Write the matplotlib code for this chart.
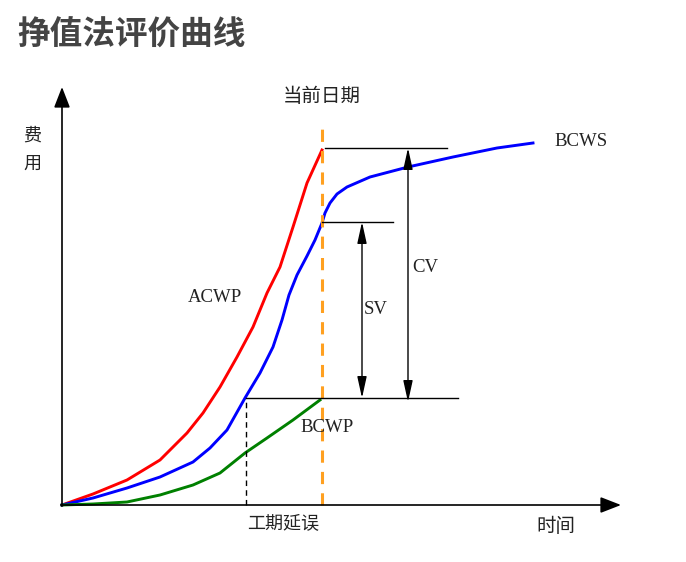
import matplotlib.pyplot as plt
import numpy as np

plt.rcParams['font.family'] = ['Noto Sans CJK SC', 'DejaVu Sans']

# Données (temps, coût), origine au coin des axes
acwp_t = [0, 31, 65, 98, 125, 141, 158, 175, 191, 205, 218, 231, 245, 260]
acwp_c = [0, 11, 25, 45, 72, 92, 118, 148, 178, 212, 238, 278, 322, 355]

bcws_t = [0, 31, 65, 98, 131, 148, 165, 183, 198, 211, 220, 227, 235,
          245, 253, 260, 263, 268, 275, 285, 308, 346, 391, 435, 471]
bcws_c = [0, 7, 17, 28, 43, 57, 75, 107, 132, 158, 185, 210, 230,
          249, 265, 282, 292, 302, 311, 318, 328, 338, 348, 357, 362]

bcwp_t = [0, 31, 65, 98, 131, 158, 183, 205, 231, 258]
bcwp_c = [0, 1, 3, 10, 20, 32, 52, 67, 85, 105]

t_now = 260        # date courante
t_delay = 184      # date où BCWS atteint BCWP
c_acwp_now = 357
c_bcws_now = 283
c_bcwp_now = 107

fig = plt.figure(figsize=(6.86, 5.62), dpi=100)
ax = fig.add_axes([0, 0, 1, 1])
ax.set_xlim(-62, 624)
ax.set_ylim(-57, 505)
ax.axis('off')

# Titre
ax.text(-45, 470, "挣值法评价曲线", fontsize=23.5, fontweight='bold',
        color="#444444", ha='left', va='center')

# Axes avec flèches
ax.annotate("", xy=(0, 418), xytext=(0, -1),
            arrowprops=dict(arrowstyle="-|>,head_length=0.9,head_width=0.35",
                            color="black", lw=1.2, mutation_scale=14,
                            shrinkA=0, shrinkB=0))
ax.annotate("", xy=(559, 0), xytext=(-1, 0),
            arrowprops=dict(arrowstyle="-|>,head_length=0.9,head_width=0.35",
                            color="black", lw=1.2, mutation_scale=14,
                            shrinkA=0, shrinkB=0))

# Courbes
ax.plot(acwp_t, acwp_c, color="red", lw=2.1, solid_joinstyle='round')
ax.plot(bcws_t, bcws_c, color="blue", lw=2.1, solid_joinstyle='round')
ax.plot(bcwp_t, bcwp_c, color="green", lw=2.1, solid_joinstyle='round')

# Ligne date courante
ax.plot([t_now, t_now], [0, 384], color="#FFA020", lw=2.2,
        dashes=(4, 3))

# Lignes de repère
ax.plot([t_now + 3, 385], [c_acwp_now, c_acwp_now], color="black", lw=1)
ax.plot([t_now, 331], [c_bcws_now, c_bcws_now], color="black", lw=1)
ax.plot([t_delay, 396], [c_bcwp_now, c_bcwp_now], color="black", lw=1)
ax.plot([t_delay, t_delay], [0, c_bcwp_now], color="black", lw=1,
        dashes=(4, 3))

# Flèches SV et CV
arrow = dict(arrowstyle="<|-|>,head_length=1.0,head_width=0.22",
             color="black", lw=1, mutation_scale=13,
             shrinkA=0, shrinkB=0)
ax.annotate("", xy=(300, c_bcwp_now), xytext=(300, c_bcws_now),
            arrowprops=arrow)
ax.annotate("", xy=(346, c_bcwp_now - 4), xytext=(346, c_acwp_now),
            arrowprops=arrow)

# Étiquettes
serif = ['Liberation Serif', 'DejaVu Serif']
ax.text(363, 237, "CV", family=serif, fontsize=13.5, ha='center',
        va='center', color="#222222")
ax.text(314, 196, "SV", family=serif, fontsize=13.5, ha='center',
        va='center', color="#222222")
ax.text(153, 208, "ACWP", family=serif, fontsize=13.5, ha='center',
        va='center', color="#222222")
ax.text(519, 363, "BCWS", family=serif, fontsize=13.5, ha='center',
        va='center', color="#222222")
ax.text(265, 77, "BCWP", family=serif, fontsize=13.5, ha='center',
        va='center', color="#222222")

ax.text(t_now, 408, "当前日期", fontsize=14, ha='center', va='center',
        color="#222222")
ax.text(-30, 369, "费", fontsize=13, ha='center', va='center', color="#222222")
ax.text(-30, 341, "用", fontsize=13, ha='center', va='center', color="#222222")
ax.text(221, -18, "工期延误", fontsize=13, ha='center', va='center',
        color="#222222")
ax.text(494, -22, "时间", fontsize=14, ha='center', va='center',
        color="#222222")

plt.savefig("out.png", dpi=100)
plt.close()
